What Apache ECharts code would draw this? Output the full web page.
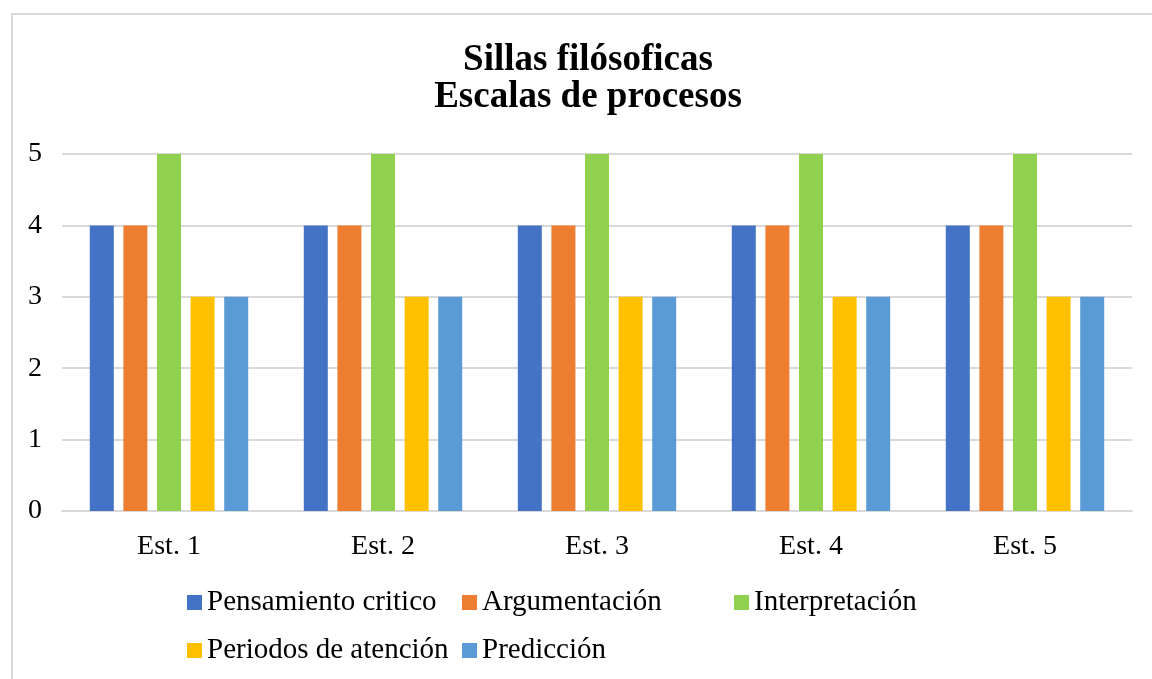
<!DOCTYPE html>
<html>
<head>
<meta charset="utf-8">
<title>Sillas filósoficas</title>
<script src="https://cdn.jsdelivr.net/npm/echarts@6/dist/echarts.min.js"></script>
<style>
    html,body{margin:0;padding:0;background:#fff;}
    .chart{width:1152px;height:679px;}
</style>
</head>
<body>
<div class="chart"></div>
<script>
// 数据
var categories=['Est. 1','Est. 2','Est. 3','Est. 4','Est. 5'];
var pensamiento=[4,4,4,4,4];
var argumentacion=[4,4,4,4,4];
var interpretacion=[5,5,5,5,5];
var periodos=[3,3,3,3,3];
var prediccion=[3,3,3,3,3];
var yTicks=[0,1,2,3,4,5];

(function(){
    var serif="'Times New Roman','Liberation Serif',serif";
    var myChart=echarts.init(document.querySelector('.chart'));
    var names=['Pensamiento critico','Argumentación','Interpretación','Periodos de atención','Predicción'];
    var values=[pensamiento,argumentacion,interpretacion,periodos,prediccion];
    var colors=['#4472C4','#ED7D31','#92D050','#FFC000','#5B9BD5'];
    // 图例位置 (3列网格)
    var legendPos=[[187,588],[462,588],[734,588],[187,636],[462,636]];

    var series=names.map(function(n,i){
        return {
            name:n,
            type:'bar',
            data:values[i],
            barWidth:24,
            barGap:'40%',
            itemStyle:{color:colors[i]}
        };
    });

    var legends=names.map(function(n,i){
        return {
            data:[n],
            left:legendPos[i][0],
            top:legendPos[i][1],
            padding:0,
            icon:'rect',
            itemWidth:15,
            itemHeight:15,
            textStyle:{fontFamily:serif,fontSize:29,color:'#000'}
        };
    });

    var option={
        animation:false,
        color:colors,
        // 外框
        graphic:[{
            type:'rect',
            shape:{x:12,y:14,width:1160,height:700},
            style:{fill:'none',stroke:'#d9d9d9',lineWidth:2},
            silent:true
        }],
        title:{
            text:'Sillas filósoficas\nEscalas de procesos',
            left:588,
            top:42,
            padding:0,
            textAlign:'center',
            textStyle:{
                fontFamily:serif,
                fontSize:37,
                fontWeight:'bold',
                lineHeight:37,
                color:'#000'
            }
        },
        legend:legends,
        grid:{
            left:62,
            right:20,
            top:154,
            bottom:168,
            containLabel:false
        },
        xAxis:{
            type:'category',
            data:categories,
            axisTick:{show:false},
            axisLine:{lineStyle:{color:'#d9d9d9',width:2}},
            axisLabel:{
                fontFamily:serif,
                fontSize:28,
                color:'#000',
                margin:22
            }
        },
        yAxis:{
            type:'value',
            min:yTicks[0],
            max:yTicks[yTicks.length-1],
            interval:1,
            axisLine:{show:false},
            axisTick:{show:false},
            axisLabel:{
                fontFamily:serif,
                fontSize:28,
                color:'#000',
                margin:20
            },
            splitLine:{lineStyle:{color:'#d9d9d9',width:2}}
        },
        series:series
    };
    myChart.setOption(option);
})();
</script>
</body>
</html>
